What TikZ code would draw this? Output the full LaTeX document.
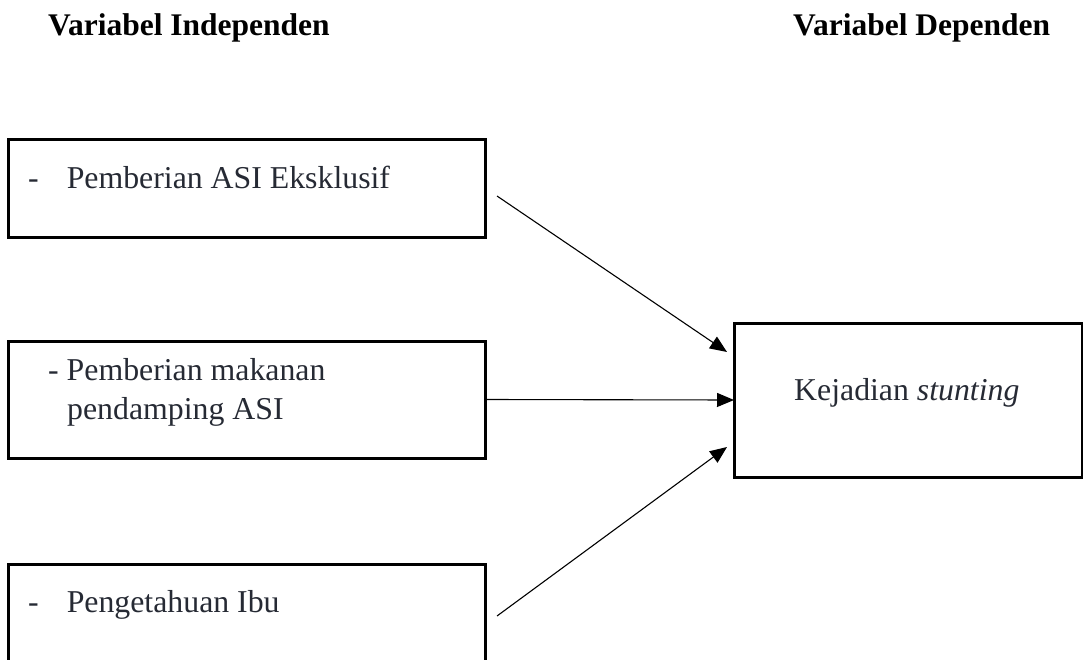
\documentclass[tikz,border=0pt]{standalone}
\usepackage{fontspec}
\setmainfont{Liberation Serif}
\usetikzlibrary{arrows.meta}
\definecolor{teks}{RGB}{38,42,52}
\tikzset{
  kotak/.style={draw, line width=3pt, minimum width=477pt, anchor=north west, inner sep=0pt, outer sep=0pt},
  isi/.style={anchor=base west, inner sep=0pt, text=teks, font=\fontsize{31.8}{39}\selectfont},
  judul/.style={anchor=base west, inner sep=0pt, font=\fontsize{31.5}{37}\selectfont\bfseries},
  panah/.style={-{Triangle[length=17pt,width=14pt]}, line width=1.1pt},
}
\begin{document}
\begin{tikzpicture}[x=1pt,y=-1pt]
	\path[use as bounding box, clip] (0,0) rectangle (1083,660);

	% judul
	\node[judul] (h1) at (48,36) {Variabel Independen};
	\node[judul] (h2) at (793,36) {Variabel Dependen};

	% variabel independen
	\node[kotak, minimum height=98pt] (x1) at (8,140) {};
	\node[kotak, minimum height=117pt] (x2) at (8,341) {};
	\node[kotak, minimum height=140pt] (x3) at (8,564) {};

	\node[isi] (t1) at (28,189) {-\hspace{28pt}Pemberian ASI Eksklusif};
	\node[isi] (t2a) at (48,380) {- Pemberian makanan};
	\node[isi] (t2b) at (67,419) {pendamping ASI};
	\node[isi] (t3) at (28,612) {-\hspace{28pt}Pengetahuan Ibu};

	% variabel dependen
	\node[kotak, minimum width=348pt, minimum height=154pt] (hasil) at (734,323) {};
	\node[isi] (t4) at (794,400) {Kejadian \textit{stunting}};

	% panah
	\coordinate (a1) at (497,196);
	\coordinate (b1) at (727,352);
	\coordinate (a3) at (497,616);
	\coordinate (b3) at (727,447);
	\draw[panah] (a1) -- (b1);
	\draw[panah] (x2.east) -- (hasil.west);
	\draw[panah] (a3) -- (b3);
\end{tikzpicture}
\end{document}
